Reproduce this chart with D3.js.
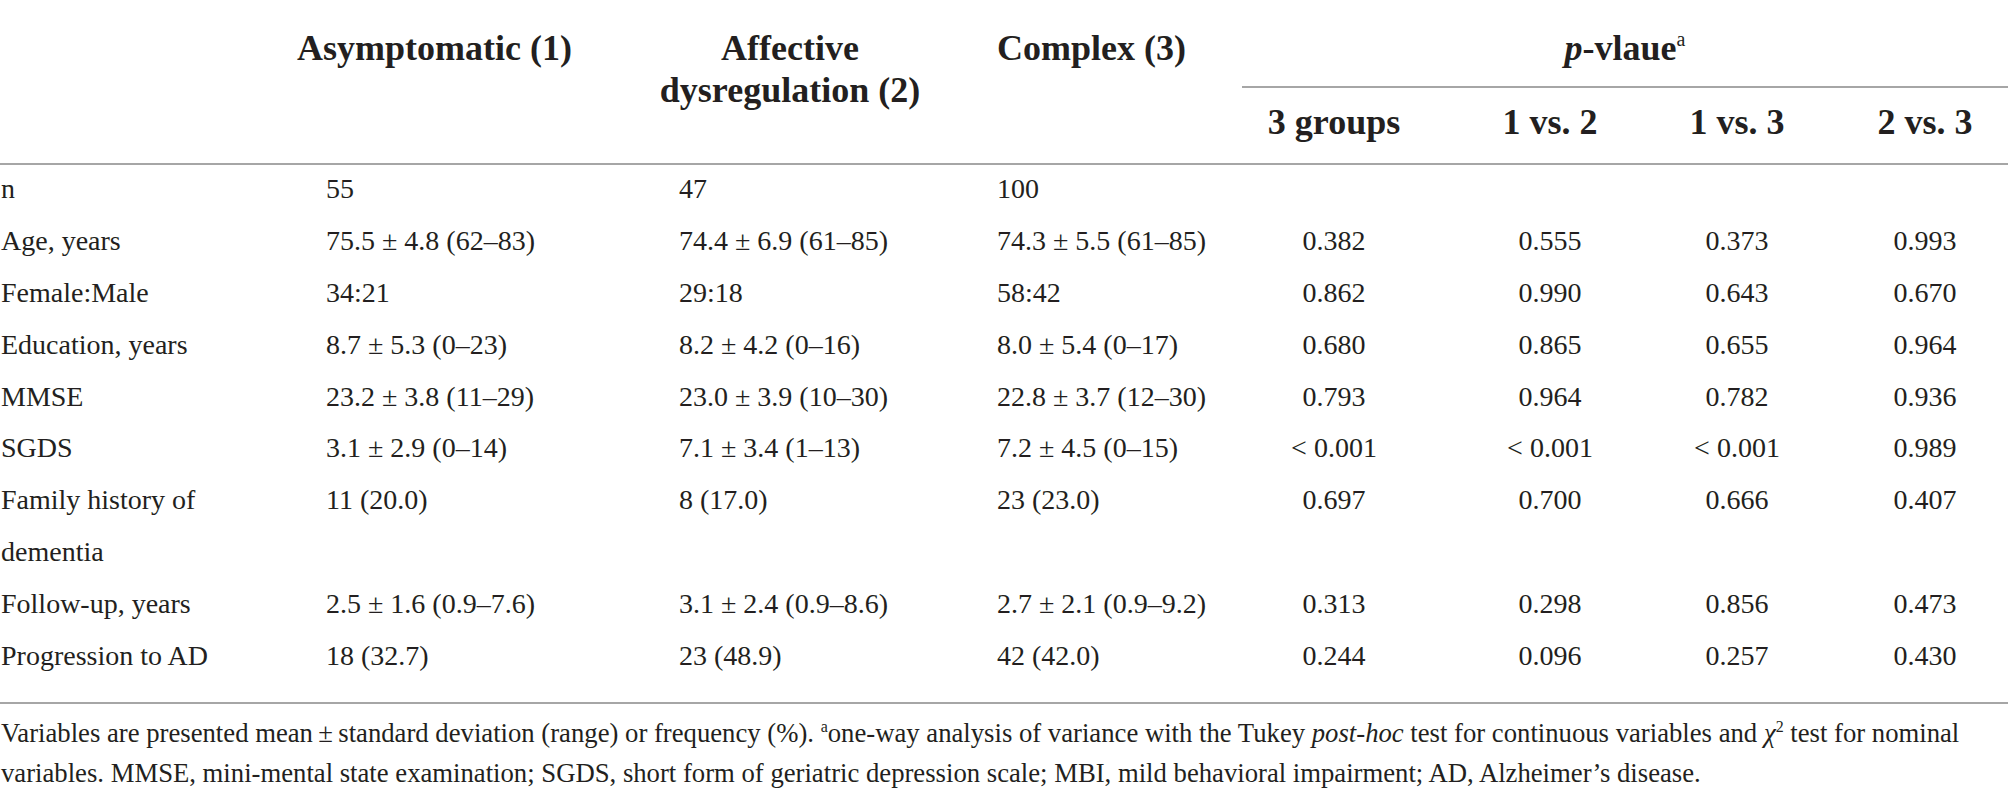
<!DOCTYPE html>
<html>
<head>
<meta charset="utf-8">
<script src="https://cdn.jsdelivr.net/npm/d3@7"></script>
<style>
  html, body { margin: 0; padding: 0; background: #ffffff; }
  svg { display: block; }
  text { font-family: "Liberation Serif", "DejaVu Serif", serif; fill: #231f20; }
</style>
</head>
<body>
<svg id="chart" width="2008" height="797"></svg>
<script>
// ---- data ----
const rowLabels = ["n", "Age, years", "Female:Male", "Education, years", "MMSE", "SGDS",
                   "Family history of|dementia", "Follow-up, years", "Progression to AD"];
const asymptomatic = ["55", "75.5 ± 4.8 (62–83)", "34:21", "8.7 ± 5.3 (0–23)", "23.2 ± 3.8 (11–29)",
                      "3.1 ± 2.9 (0–14)", "11 (20.0)", "2.5 ± 1.6 (0.9–7.6)", "18 (32.7)"];
const affective = ["47", "74.4 ± 6.9 (61–85)", "29:18", "8.2 ± 4.2 (0–16)", "23.0 ± 3.9 (10–30)",
                   "7.1 ± 3.4 (1–13)", "8 (17.0)", "3.1 ± 2.4 (0.9–8.6)", "23 (48.9)"];
const complexG = ["100", "74.3 ± 5.5 (61–85)", "58:42", "8.0 ± 5.4 (0–17)", "22.8 ± 3.7 (12–30)",
                  "7.2 ± 4.5 (0–15)", "23 (23.0)", "2.7 ± 2.1 (0.9–9.2)", "42 (42.0)"];
const pThree = ["", "0.382", "0.862", "0.680", "0.793", "< 0.001", "0.697", "0.313", "0.244"];
const p1v2   = ["", "0.555", "0.990", "0.865", "0.964", "< 0.001", "0.700", "0.298", "0.096"];
const p1v3   = ["", "0.373", "0.643", "0.655", "0.782", "< 0.001", "0.666", "0.856", "0.257"];
const p2v3   = ["", "0.993", "0.670", "0.964", "0.936", "0.989", "0.407", "0.473", "0.430"];
const pHeaders = ["3 groups", "1 vs. 2", "1 vs. 3", "2 vs. 3"];
// row slot index (Family history wraps onto two lines)
const rowSlots = [0, 1, 2, 3, 4, 5, 6, 8, 9];

// ---- layout ----
const svg = d3.select("#chart");
const W = 2008;
const bodySize = 28, headSize = 36, noteSize = 26.7;
const lineColor = "#a6a6a6";

const colKeys = ["label", "g1", "g2", "g3", "p3", "p12", "p13", "p23"];
const colX = d3.scaleOrdinal().domain(colKeys).range([1, 326, 679, 997, 1334, 1550, 1737, 1925]);
const colAnchor = d3.scaleOrdinal().domain(colKeys)
  .range(["start", "start", "start", "start", "middle", "middle", "middle", "middle"]);
const rowY = d3.scaleLinear().domain([0, 9]).range([198, 665]);

// rules
const rules = [
  { x1: 1242, x2: W, y: 87 },
  { x1: 0, x2: W, y: 164 },
  { x1: 0, x2: W, y: 703 }
];
svg.selectAll("line.rule").data(rules).join("line")
  .attr("class", "rule")
  .attr("x1", d => d.x1).attr("x2", d => d.x2)
  .attr("y1", d => d.y).attr("y2", d => d.y)
  .attr("stroke", lineColor).attr("stroke-width", 2);

// header row
const head = svg.append("g").attr("font-weight", "bold").attr("font-size", headSize);
head.append("text").attr("x", 297).attr("y", 60).text("Asymptomatic (1)");
head.append("text").attr("x", 790).attr("y", 60).attr("text-anchor", "middle").text("Affective");
head.append("text").attr("x", 790).attr("y", 102).attr("text-anchor", "middle").text("dysregulation (2)");
head.append("text").attr("x", 997).attr("y", 60).text("Complex (3)");
const pv = head.append("text").attr("x", 1625).attr("y", 60).attr("text-anchor", "middle");
pv.append("tspan").attr("font-style", "italic").text("p");
pv.append("tspan").text("-vlaue");
pv.append("tspan").attr("font-size", 20).attr("font-weight", "normal").attr("dy", -14).text("a");

head.selectAll("text.ph").data(pHeaders).join("text")
  .attr("class", "ph")
  .attr("x", (d, i) => colX(colKeys[4 + i]))
  .attr("y", 134)
  .attr("text-anchor", "middle")
  .text(d => d);

// body
const body = svg.append("g").attr("font-size", bodySize);
const cols = [
  { key: "g1", vals: asymptomatic },
  { key: "g2", vals: affective },
  { key: "g3", vals: complexG },
  { key: "p3", vals: pThree },
  { key: "p12", vals: p1v2 },
  { key: "p13", vals: p1v3 },
  { key: "p23", vals: p2v3 }
];

rowLabels.forEach((lab, i) => {
  const parts = lab.split("|");
  parts.forEach((p, j) => {
    body.append("text")
      .attr("x", colX("label"))
      .attr("y", rowY(rowSlots[i] + j))
      .text(p);
  });
});

cols.forEach(c => {
  body.selectAll(null).data(c.vals).join("text")
    .attr("x", colX(c.key))
    .attr("y", (d, i) => rowY(rowSlots[i]))
    .attr("text-anchor", colAnchor(c.key))
    .text(d => d);
});

// footnote
const note = svg.append("g").attr("font-size", noteSize);
const n1 = note.append("text").attr("x", 1).attr("y", 742);
n1.append("tspan").text("Variables are presented mean\u2009±\u2009standard deviation (range) or frequency (%). ");
n1.append("tspan").attr("font-size", 16).attr("dy", -10).text("a");
n1.append("tspan").attr("dy", 10).text("one-way analysis of variance with the Tukey ");
n1.append("tspan").attr("font-style", "italic").text("post-hoc");
n1.append("tspan").text(" test for continuous variables and ");
n1.append("tspan").attr("font-style", "italic").text("χ");
n1.append("tspan").attr("font-size", 16).attr("dy", -10).text("2");
n1.append("tspan").attr("dy", 10).text(" test for nominal");
note.append("text").attr("x", 1).attr("y", 782)
  .text("variables. MMSE, mini-mental state examination; SGDS, short form of geriatric depression scale; MBI, mild behavioral impairment; AD, Alzheimer’s disease.");
</script>
</body>
</html>
